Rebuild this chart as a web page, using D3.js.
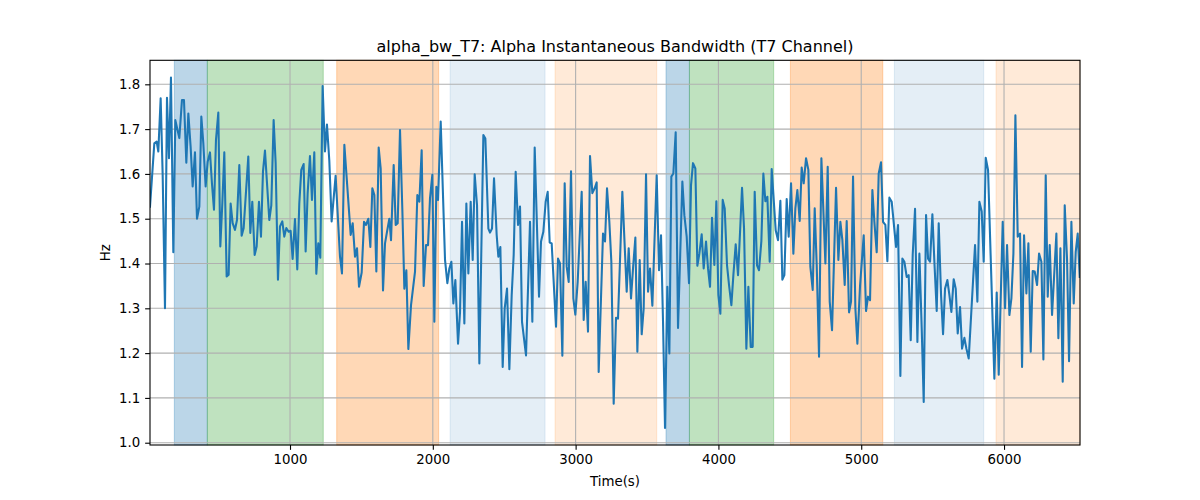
<!DOCTYPE html>
<html>
<head>
<meta charset="utf-8">
<script src="https://cdn.jsdelivr.net/npm/d3@7"></script>
<style>
  html, body { margin: 0; padding: 0; background: #ffffff; }
  svg { display: block; }
  text { font-family: "DejaVu Sans", sans-serif; fill: #000; }
</style>
</head>
<body>
<div id="chart"></div>
<script>
// ---- data ----
const times = [19.6,49.8,66.2,77.8,94.2,108.2,124.5,138.5,152.5,166.5,182.9,196.9,224.9,243.5,257.5,274,288,304.2,318.3,334.6,348.6,365,379,393,409.2,423.3,439.6,453.6,467.6,481.6,498,512,526,540,556.3,570.3,584.3,598.3,614.6,628.7,645,661.3,675.3,708,722,736,752.4,766.4,782.7,796.7,810.7,824.7,855,869,885.4,899.4,915.7,929.7,946,960,974,990.4,1004.4,1018.4,1034.8,1051,1065,1079,1095.5,1109.5,1123.5,1139.8,1153.8,1170.1,1184.1,1198.1,1212.1,1228.5,1244.8,1258.8,1275.2,1291.5,1319.5,1349.9,1363.9,
1380.6,1424.9,1438.9,1455.2,1469.2,1483.2,1501.9,1518.3,1532.3,1548.6,1562.6,1576.6,1590.6,1604.6,1621,1635,1651.3,1665.3,1681.6,1695.6,1707.3,1726,1740,1754,1770.3,1786.7,1800.7,1814.7,1828.7,1847.4,1875.4,1891.7,1905.7,1922,1936,1952.4,1966.4,1980.4,1996.7,
2010.8,2024.8,2036.5,2055.2,2085.5,2101.9,2115.9,2129.9,2143.9,2157.9,2176.6,2190.6,2204.6,2220.9,2234.9,2248.9,2265.2,2279.3,2293.3,2309.6,2325.9,2354,2368,2389,2400.6,2414.6,2428.6,2447.3,2459,2473,2489.3,2503.3,2519.7,2536,2552.3,2566.3,2580.3,2596.7,2610.7,2624.7,2652.7,
2680.7,2697,2713.4,2743.7,2757.7,2774,2790.4,2804.4,2818.4,2832.4,2862.8,2876.8,2890.8,2907.1,2923.4,2937.5,2951.5,2967.8,2984.1,2998.1,3014.5,3042.5,3056.5,3070.5,3086.8,3100.8,3117.2,3133.5,3147.5,3161.5,3191.9,3205.9,3219.9,3236.2,3250.2,3266.6,3282.9,3296.9,3327.2,
3357.7,3371.7,3388,3402,3418.4,3432.4,3448.7,3462.7,3476.7,3493.1,3507.1,3521.1,3537.4,3567.7,3584.1,3598.1,3612.1,3626.1,3642.4,3656.4,3670.4,3684.4,3700.8,3717.1,3747.5,3761.5,3777.8,3794.1,3808.1,3822.1,3838.5,3852.5,3866.5,3882.8,3896.8,3913.2,3927.2,3941.2,3955.2,3971.5,3985.5,
3999.6,4013.6,4030,4044,4060.3,4074.3,4090.7,4104.7,4121,4137.3,4151.4,4165.4,4179.4,4195.7,4209.7,4226,4240,4254,4270.4,4284.4,4300.7,4314.7,4328.7,4342.7,4359.1,4373.1,4401.1,4417.4,4433.8,4447.8,4461.8,4478.1,4492.1,4508.5,4524.8,4538.8,4552.8,4569.1,4583.1,4597.1,4613.5,4629.8,4643.8,4660.2,4674.2,
4688.3,4704.6,4721,4749,4765.3,4779.3,4795.6,4823.7,4840,4854,4868,4884.3,4898.3,4914.7,4928.7,4942.7,4959,4973,4991.7,5017.4,5033.7,5047.7,5061.7,5078.1,5092.1,5108.4,5122.4,5138.7,5152.7,5169.1,5183.1,5197.1,5213.4,5243.8,5257.8,5274.1,5288.1,5302.1,5318.5,5332.5,
5346.6,5360.6,5376.9,5393.3,5407.3,5423.6,5437.6,5454,5468,5482,5498.3,5512.3,5528.6,5542.6,5559,5573,5587,5603.3,5617.3,5631.3,5647.7,5661.7,5675.7,5692,5706,5722.4,5736.4,5752.7,5797,5813.4,5827.4,5843.7,5857.7,5871.7,5888.1,5932.4,5948.8,5962.8,5990.8,
6007.2,6021.2,6037.6,6051.6,6065.6,6079.6,6095.9,6112.2,6126.2,6140.2,6156.6,6170.6,6186.9,6200.9,6214.9,6231.3,6245.3,6261.6,6275.6,6292,6306,6320,6336.3,6366.6,6380.6,6394.7,6411,6425,6441.3,6455.3,6471.7,6488,6502,6516,6530];

const bandwidth = [1.527,1.668,1.672,1.65,1.769,1.60,1.30,1.77,1.635,1.815,1.425,1.72,1.68,1.765,1.765,1.625,1.735,1.66,1.572,1.648,1.50,1.527,1.728,1.668,1.572,1.627,1.648,1.578,1.52,1.676,1.737,1.438,1.534,1.648,1.371,1.375,1.534,1.49,1.475,1.497,1.62,1.462,1.479,1.639,1.468,1.538,1.419,1.438,1.538,1.46,1.605,1.652,1.497,1.53,1.72,1.624,1.364,1.483,1.494,1.46,1.479,1.471,1.473,1.41,1.499,1.387,1.534,1.609,1.622,1.427,1.557,1.64,1.542,1.648,1.377,1.445,1.413,1.796,1.65,1.71,1.63,1.494,1.596,1.416,1.378,
1.665,1.464,1.49,1.415,1.434,1.348,1.38,1.493,1.486,1.50,1.437,1.568,1.553,1.382,1.659,1.612,1.34,1.445,1.475,1.50,1.452,1.62,1.486,1.49,1.698,1.52,1.344,1.385,1.209,1.307,1.382,1.553,1.538,1.653,1.35,1.441,1.441,1.546,1.598,
1.27,1.571,1.542,1.717,1.408,1.356,1.389,1.404,1.311,1.363,1.221,1.292,1.493,1.266,1.534,1.378,1.538,1.408,1.599,1.53,1.177,1.687,1.679,1.478,1.469,1.478,1.59,1.463,1.415,1.437,1.169,1.30,1.344,1.164,1.329,1.419,1.605,1.486,1.527,1.27,1.195,
1.493,1.27,1.659,1.326,1.449,1.471,1.538,1.56,1.447,1.445,1.259,1.411,1.40,1.194,1.579,1.393,1.359,1.606,1.322,1.286,1.359,1.56,1.274,1.359,1.248,1.64,1.557,1.568,1.581,1.158,1.467,1.449,1.568,1.493,1.404,1.087,1.279,1.277,1.56,
1.337,1.434,1.322,1.389,1.458,1.203,1.408,1.242,1.30,1.599,1.337,1.389,1.306,1.597,1.385,1.463,1.27,1.033,1.348,1.199,1.594,1.601,1.693,1.256,1.583,1.508,1.46,1.356,1.575,1.624,1.612,1.395,1.422,1.465,1.389,1.449,1.389,1.348,1.502,1.397,1.539,
1.33,1.288,1.542,1.523,1.396,1.352,1.307,1.374,1.443,1.374,1.47,1.569,1.478,1.21,1.348,1.214,1.214,1.56,1.396,1.385,1.45,1.601,1.539,1.549,1.404,1.611,1.474,1.452,1.54,1.364,1.374,1.544,1.46,1.579,1.422,1.523,1.564,1.495,1.614,1.579,1.635,1.609,1.393,1.341,1.523,
1.396,1.192,1.635,1.40,1.616,1.315,1.251,1.569,1.408,1.493,1.452,1.352,1.495,1.291,1.315,1.594,1.30,1.221,1.35,1.463,1.294,1.326,1.318,1.564,1.493,1.425,1.601,1.626,1.493,1.486,1.405,1.547,1.538,1.437,1.486,1.149,1.411,1.404,1.37,1.374,
1.229,1.42,1.522,1.225,1.422,1.255,1.091,1.508,1.411,1.404,1.51,1.404,1.294,1.49,1.33,1.242,1.344,1.363,1.33,1.292,1.365,1.344,1.244,1.303,1.21,1.234,1.21,1.188,1.441,1.315,1.538,1.516,1.404,1.636,1.609,1.143,1.335,1.152,1.493,
1.30,1.441,1.285,1.322,1.422,1.731,1.46,1.467,1.169,1.463,1.333,1.445,1.203,1.383,1.382,1.352,1.422,1.404,1.186,1.597,1.326,1.441,1.285,1.467,1.233,1.434,1.136,1.53,1.409,1.182,1.493,1.311,1.426,1.467,1.37];

// shaded phases
const spanStarts = [190, 421, 1327, 2121, 2856, 3633, 3797, 4504, 5232, 5944];
const spanEnds   = [421, 1233, 2041, 2786, 3568, 3797, 4387, 5151, 5858, 6532];
const spanKinds  = ["blue", "green", "orange", "lightblue", "lightorange", "blue", "green", "orange", "lightblue", "lightorange"];

const xTicks = [1000, 2000, 3000, 4000, 5000, 6000];
const yTicks = [1.0, 1.1, 1.2, 1.3, 1.4, 1.5, 1.6, 1.7, 1.8];

const titleText = "alpha_bw_T7: Alpha Instantaneous Bandwidth (T7 Channel)";
const xLabelText = "Time(s)";
const yLabelText = "Hz";

// ---- styles ----
const kindStyle = {
  blue:        { color: "#1f77b4", alpha: 0.3 },
  green:       { color: "#2ca02c", alpha: 0.3 },
  orange:      { color: "#ff7f0e", alpha: 0.3 },
  lightblue:   { color: "#1f77b4", alpha: 0.12 },
  lightorange: { color: "#ff7f0e", alpha: 0.16 }
};

const W = 1200, H = 500;
const m = { left: 150, right: 1080, top: 60.3, bottom: 445 };

const svg = d3.select("#chart").append("svg").attr("width", W).attr("height", H);

const x = d3.scaleLinear().domain([19.6, 6532]).range([m.left, m.right]);
const y = d3.scaleLinear().domain([0.9949, 1.8536]).range([m.bottom, m.top]);

// spans
svg.append("g").selectAll("rect").data(spanStarts.map((s, i) => ({ s, e: spanEnds[i], k: spanKinds[i] })))
  .join("rect")
  .attr("x", d => x(d.s))
  .attr("y", m.top)
  .attr("width", d => Math.max(0, Math.min(x(d.e), m.right) - x(d.s)))
  .attr("height", m.bottom - m.top)
  .attr("fill", d => kindStyle[d.k].color)
  .attr("fill-opacity", d => kindStyle[d.k].alpha)
  .attr("stroke", d => kindStyle[d.k].color)
  .attr("stroke-opacity", d => kindStyle[d.k].alpha)
  .attr("stroke-width", 1);

// grid
const grid = svg.append("g");
grid.selectAll("line.gx").data(xTicks).join("line")
  .attr("x1", d => x(d)).attr("x2", d => x(d))
  .attr("y1", m.top).attr("y2", m.bottom)
  .attr("stroke", "#b0b0b0").attr("stroke-width", 1.1);
grid.selectAll("line.gy").data(yTicks).join("line")
  .attr("x1", m.left).attr("x2", m.right)
  .attr("y1", d => y(d)).attr("y2", d => y(d))
  .attr("stroke", "#b0b0b0").attr("stroke-width", 1.1);

// line
const clipId = "plotclip";
svg.append("clipPath").attr("id", clipId).append("rect")
  .attr("x", m.left).attr("y", m.top).attr("width", m.right - m.left).attr("height", m.bottom - m.top);

const line = d3.line().x((d, i) => x(times[i])).y(d => y(d));
svg.append("path")
  .datum(bandwidth)
  .attr("clip-path", `url(#${clipId})`)
  .attr("d", line)
  .attr("fill", "none")
  .attr("stroke", "#1f77b4")
  .attr("stroke-width", 2.08)
  .attr("stroke-linejoin", "round")
  .attr("stroke-linecap", "square");

// axes
const xAxis = d3.axisBottom(x).tickValues(xTicks).tickFormat(d3.format("d")).tickSize(4.86).tickPadding(4.86);
const yAxis = d3.axisLeft(y).tickValues(yTicks).tickFormat(d3.format(".1f")).tickSize(4.86).tickPadding(4.86);

const gx = svg.append("g").attr("transform", `translate(0,${m.bottom})`).call(xAxis);
const gy = svg.append("g").attr("transform", `translate(${m.left},0)`).call(yAxis);
[gx, gy].forEach(g => {
  g.select(".domain").remove();
  g.selectAll(".tick line").attr("stroke", "#000").attr("stroke-width", 1.1);
  g.selectAll(".tick text").attr("font-size", "13.33px").attr("font-family", "DejaVu Sans, sans-serif").attr("fill", "#000");
});

// spines
svg.append("rect")
  .attr("x", m.left).attr("y", m.top)
  .attr("width", m.right - m.left).attr("height", m.bottom - m.top)
  .attr("fill", "none").attr("stroke", "#000").attr("stroke-width", 1.1);

// title & labels
svg.append("text").attr("x", (m.left + m.right) / 2).attr("y", 52)
  .attr("text-anchor", "middle").attr("font-size", "16px").text(titleText);
svg.append("text").attr("x", (m.left + m.right) / 2).attr("y", 486)
  .attr("text-anchor", "middle").attr("font-size", "13.33px").text(xLabelText);
svg.append("text").attr("transform", `translate(110,${(m.top + m.bottom) / 2}) rotate(-90)`)
  .attr("text-anchor", "middle").attr("font-size", "13.33px").text(yLabelText);
</script>
</body>
</html>
